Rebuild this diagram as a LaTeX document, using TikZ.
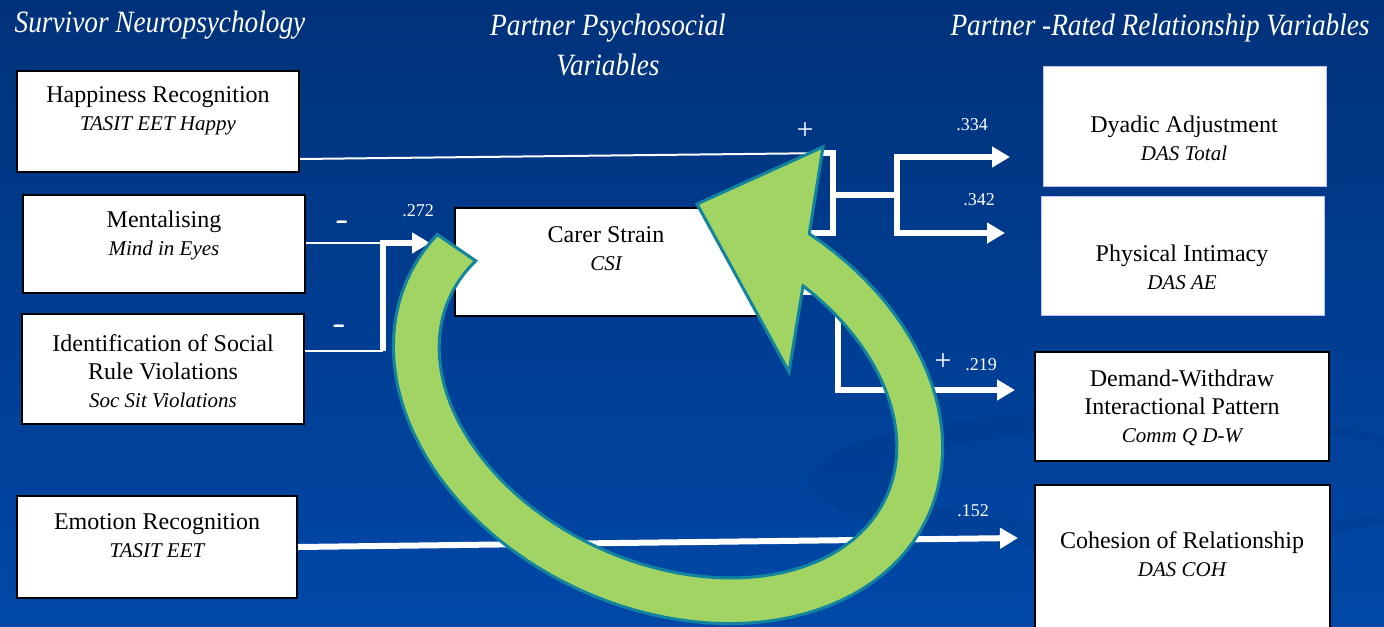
\documentclass[tikz,border=0pt]{standalone}
\usepackage{fontspec}
\setmainfont{Liberation Serif}
\newfontfamily\headfont[FakeStretch=0.88]{Liberation Serif}
\usetikzlibrary{arrows.meta,positioning}
\definecolor{bgtop}{RGB}{0,50,122}
\definecolor{bgbot}{RGB}{0,72,168}
\definecolor{ringfill}{RGB}{161,212,98}
\definecolor{ringedge}{RGB}{18,132,160}
\newcommand{\meas}[1]{{\fontsize{10.5}{13.5}\selectfont\itshape #1}}
\tikzset{
  varbox/.style={draw=black, line width=1pt, fill=white, inner sep=0pt},
  plainbox/.style={draw=blue!25, line width=0.5pt, fill=white, inner sep=0pt},
  boxtext/.style={align=center, text=black, font=\fontsize{12}{14}\selectfont},
  heading/.style={align=center, text=white, font=\headfont\fontsize{15.5}{20}\selectfont\itshape},
  coef/.style={text=white, font=\fontsize{9}{10}\selectfont},
  sign/.style={text=white, font=\fontsize{15}{15}\selectfont},
  minus/.style={text=white, font=\sffamily\bfseries\fontsize{18}{18}\selectfont},
  link/.style={white, line width=3pt},
  thinlink/.style={white, line width=1pt},
  arr/.style={link, -{Triangle[length=9pt,width=10pt]}},
  swoosh/.style={fill=bgtop, opacity=0.2, even odd rule},
  cyclearrow/.style={fill=ringfill, draw=ringedge, line width=1.5pt, line join=miter},
}
\begin{document}
\begin{tikzpicture}[x=0.5pt,y=-0.5pt]
\useasboundingbox (0,0) rectangle (1384,626);
\shade[top color=bgtop,bottom color=bgbot] (0,0) rectangle (1384,626);
\fill[swoosh] (1130,480) ellipse [x radius=320, y radius=70]
  (1175,478) ellipse [x radius=285, y radius=52];

% column headings
\node[heading] (hSurv) at (160,25) {Survivor Neuropsychology};
\node[heading] (hPsy) at (608,45) {Partner Psychosocial\\Variables};
\node[heading] (hRel) at (1160,28) {Partner -Rated Relationship Variables};

% junction points
\coordinate (brTop) at (833,153);
\coordinate (brMid) at (833,195);
\coordinate (brBot) at (833,233);
\coordinate (split) at (897,195);
\coordinate (toDy) at (1010,157);
\coordinate (toPi) at (1005,233);
\coordinate (dwBend) at (838,292);
\coordinate (toDw) at (1015,390);
\coordinate (lTop) at (383,243);
\coordinate (lBot) at (383,351);
\coordinate (toCoh) at (1018,538);

% boxes
\node[varbox, minimum width=141pt, minimum height=50.5pt] (happy) at (158,121.5) {};
\node[varbox, minimum width=141pt, minimum height=49pt] (mental) at (164,244) {};
\node[varbox, minimum width=141pt, minimum height=55pt] (socrule) at (163,369) {};
\node[varbox, minimum width=140pt, minimum height=51pt] (emotion) at (157,547) {};
\node[varbox, minimum width=151.5pt, minimum height=54pt] (carer) at (606.5,262) {};
\node[plainbox, minimum width=141.5pt, minimum height=59.5pt] (dyadic) at (1184.5,126.5) {};
\node[plainbox, minimum width=141.5pt, minimum height=59.5pt] (intimacy) at (1182.5,255.5) {};
\node[varbox, minimum width=147pt, minimum height=54.5pt] (demand) at (1182,406.5) {};
\node[varbox, minimum width=147.5pt, minimum height=80pt] (cohesion) at (1182.5,565) {};

\node[boxtext] (happyT) at (158,111) {Happiness Recognition\\\meas{TASIT EET Happy}};
\node[boxtext] (mentalT) at (164,235) {Mentalising\\\meas{Mind in Eyes}};
\node[boxtext] (socruleT) at (163,371) {Identification of Social\\Rule Violations\\\meas{Soc Sit Violations}};
\node[boxtext] (emotionT) at (157,536) {Emotion Recognition\\\meas{TASIT EET}};
\node[boxtext] (carerT) at (606,248.5) {Carer Strain\\\meas{CSI}};
\node[boxtext] (dyadicT) at (1184,138) {Dyadic Adjustment\\\meas{DAS Total}};
\node[boxtext] (intimacyT) at (1182,267) {Physical Intimacy\\\meas{DAS AE}};
\node[boxtext] (demandT) at (1182,408) {Demand-Withdraw\\Interactional Pattern\\\meas{Comm Q D-W}};
\node[boxtext] (cohesionT) at (1182,554.5) {Cohesion of Relationship\\\meas{DAS COH}};

% paths
\draw[thinlink] ([yshift=7pt]happy.south east) -- (brTop);
\draw[link] (carer.east |- brBot) -- (brBot) -- (brTop) -- ++(-12,0);
\draw[link] (brMid) -- (split);
\draw[arr] (split) |- (toDy);
\draw[arr] (split) |- (toPi);
\draw[arr] (carer.east |- dwBend) -- (dwBend) |- (toDw);
\draw[thinlink] (mental.east |- lTop) -- (lTop);
\draw[thinlink] (socrule.east |- lBot) -- (lBot);
\draw[arr] (lBot) |- ([xshift=-12pt]carer.west |- lTop);
\draw[arr] (emotion.east) -- (toCoh);

% circular arrow: outer and inner arcs of a tilted ellipse
\filldraw[cyclearrow]
  plot[domain=194.1:-77.8, samples=90, variable=\t]
    ({668+260.1*cos(\t)-88.3*sin(\t)},{397+119.1*cos(\t)+192.8*sin(\t)})
  -- (823,147) -- (697,204) -- (789,372) -- (803,286)
  -- plot[domain=-71.4:195.3, samples=90, variable=\t]
    ({668+218.2*cos(\t)-69.1*sin(\t)},{397+99.9*cos(\t)+150.9*sin(\t)})
  -- cycle;

% coefficients and signs
\node[sign] (plusTop) at (805,131) {+};
\node[coef] (c334) at (972,125) {.334};
\node[coef] (c342) at (979,200) {.342};
\node[sign] (plusDw) at (943,362) {+};
\node[coef] (c219) at (981,365) {.219};
\node[coef] (c272) at (418,211) {.272};
\node[minus] (minA) at (343,226) {-};
\node[minus] (minB) at (340,330) {-};
\node[coef] (c152) at (973,511) {.152};
\end{tikzpicture}
\end{document}
